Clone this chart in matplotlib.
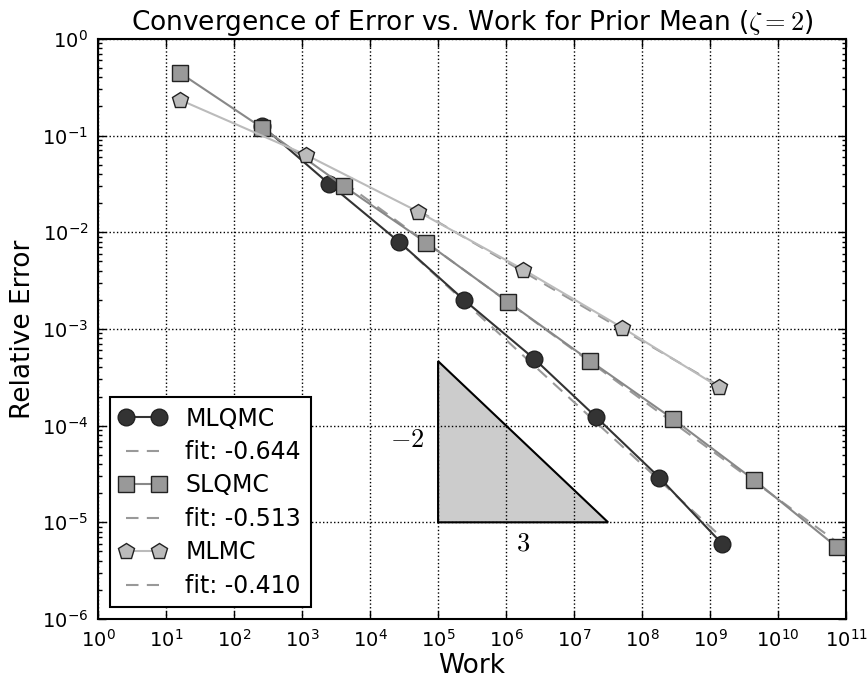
import numpy as np
import matplotlib
matplotlib.use("Agg")
import matplotlib.pyplot as plt
from matplotlib.patches import Polygon

# -- data --
work_mlqmc = [2.6e2, 2.5e3, 2.7e4, 2.4e5, 2.6e6, 2.1e7, 1.8e8, 1.5e9]
err_mlqmc = [0.125, 0.0316, 7.9e-3, 2.0e-3, 4.9e-4, 1.23e-4, 2.9e-5, 6.0e-6]

work_slqmc = [16, 2.6e2, 4.1e3, 6.7e4, 1.07e6, 1.7e7, 2.8e8, 4.4e9, 7.4e10]
err_slqmc = [0.445, 0.12, 0.030, 7.8e-3, 1.9e-3, 4.7e-4, 1.18e-4, 2.75e-5, 5.5e-6]

work_mlmc = [16, 1.15e3, 5.1e4, 1.8e6, 5.1e7, 1.35e9]
err_mlmc = [0.234, 0.063, 0.0163, 4.1e-3, 1.03e-3, 2.5e-4]

# fit: log10(err) = c + slope*log10(work), drawn from 3rd point on
fit_slope = [-0.644, -0.513, -0.410]
fit_const = [0.75, 0.37, 0.155]

plt.rcParams['font.family'] = 'DejaVu Sans'
plt.rcParams['mathtext.fontset'] = 'dejavusans'
plt.rcParams['axes.unicode_minus'] = False
plt.rcParams['xtick.direction'] = 'in'
plt.rcParams['ytick.direction'] = 'in'
plt.rcParams['xtick.top'] = True
plt.rcParams['ytick.right'] = True

fig = plt.figure(figsize=(8.67, 6.81), dpi=100)
ax = fig.add_axes([0.113, 0.091, 0.863, 0.852])

series = [
    ("MLQMC", work_mlqmc, err_mlqmc, 'o', '#333333', '#333333', 12),
    ("SLQMC", work_slqmc, err_slqmc, 's', '#999999', '#888888', 11.5),
    ("MLMC", work_mlmc, err_mlmc, 'p', '#bbbbbb', '#bbbbbb', 12),
]

for k, (name, w, e, mk, fc, lc, ms) in enumerate(series):
    ax.loglog(w, e, marker=mk, color=lc, mfc=fc, mec='#222222', mew=1.0,
              ms=ms, lw=1.5, label=name, zorder=3)
    wf = np.array(w[2:])
    ef = 10 ** (fit_const[k] + fit_slope[k] * np.log10(wf))
    ax.loglog(wf, ef, '--', color='#999999', lw=1.5, dashes=(6, 4),
              label='fit: %.3f' % fit_slope[k], zorder=2)

# slope triangle
tri_x = [1e5, 1e5, 10 ** 7.5]
tri_y = [1e-5, 10 ** (-5 + 5.0 / 3.0), 1e-5]
ax.add_patch(Polygon(list(zip(tri_x, tri_y)), closed=True, facecolor='#cccccc',
                     edgecolor='black', lw=1.5, zorder=1))
ax.text(10 ** 4.55, 10 ** -4.15, r'$-2$', fontsize=19, ha='center', va='center',
        math_fontfamily='cm')
ax.text(10 ** 6.25, 10 ** -5.22, r'$3$', fontsize=19, ha='center', va='center',
        math_fontfamily='cm')

ax.set_xlim(1e0, 1e11)
ax.set_ylim(1e-6, 1e0)
ax.set_xticks([10.0 ** i for i in range(0, 12)])
ax.set_yticks([10.0 ** i for i in range(-6, 1)])
ax.grid(True, which='major', color='black', linestyle=':', lw=1)
ax.tick_params(which='major', length=6, width=1, labelsize=14, pad=7)
ax.tick_params(which='minor', length=3, width=1)
for s in ax.spines.values():
    s.set_linewidth(1.5)

ax.set_title(r'Convergence of Error vs. Work for Prior Mean ($\zeta=2$)',
             fontsize=19, math_fontfamily='cm')
ax.set_xlabel('Work', fontsize=19, labelpad=2)
ax.set_ylabel('Relative Error', fontsize=19)

leg = ax.legend(loc='lower left', numpoints=2, fontsize=17, fancybox=False,
                framealpha=1, edgecolor='black', borderaxespad=0.5,
                handlelength=2.0, labelspacing=0.4)
leg.get_frame().set_linewidth(1.5)

fig.savefig('out.png', dpi=100)
